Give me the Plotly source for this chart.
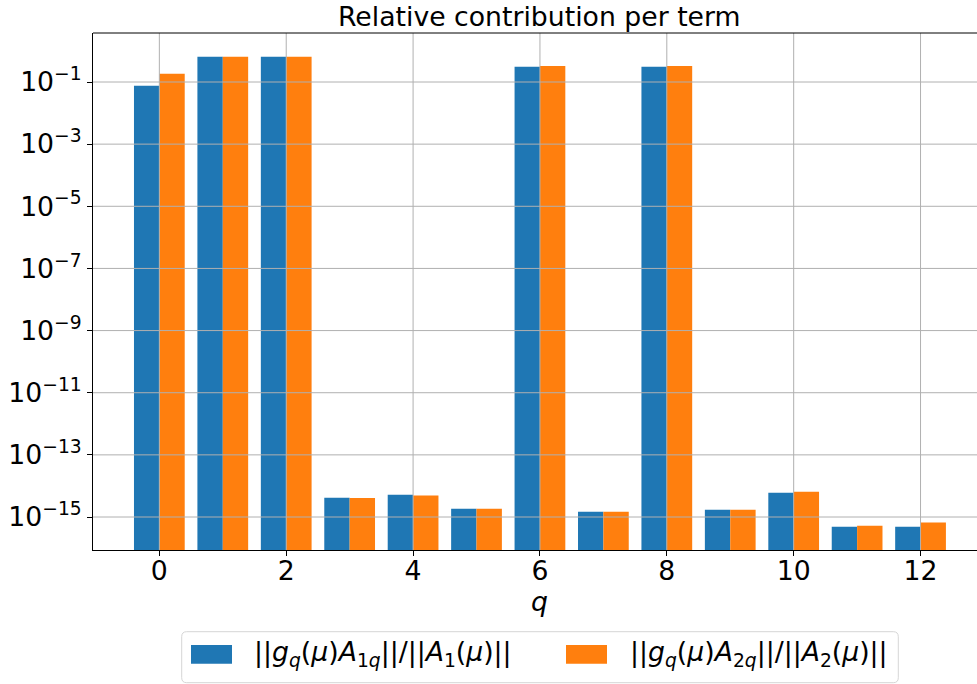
import plotly.graph_objects as go

# Term index q
q_terms = list(range(13))

# Relative contribution of each term, first and second operator
rel_A1 = [7.6e-2, 6.5e-1, 6.5e-1, 4.2e-15, 5.2e-15, 1.85e-15, 3.1e-1,
          1.48e-15, 3.1e-1, 1.72e-15, 6.05e-15, 4.9e-16, 4.9e-16]
rel_A2 = [1.85e-1, 6.5e-1, 6.5e-1, 4.1e-15, 4.9e-15, 1.85e-15, 3.3e-1,
          1.48e-15, 3.3e-1, 1.72e-15, 6.5e-15, 5.2e-16, 6.6e-16]

# Axis ticks
x_ticks = [0, 2, 4, 6, 8, 10, 12]
y_exponents = [-15, -13, -11, -9, -7, -5, -3, -1]

series_names = [
    "||<i>g</i><sub><i>q</i></sub>(<i>μ</i>)<i>A</i><sub>1<i>q</i></sub>||/||<i>A</i><sub>1</sub>(<i>μ</i>)||",
    "||<i>g</i><sub><i>q</i></sub>(<i>μ</i>)<i>A</i><sub>2<i>q</i></sub>||/||<i>A</i><sub>2</sub>(<i>μ</i>)||",
]
colors = ["#1f77b4", "#ff7f0e"]

W, H = 977, 684
L, R, T, B = 93, 0, 33, 134
plot_w = W - L - R
plot_h = H - T - B
X_RANGE = [-1.046, 12.89]
Y_RANGE = [-16.062, 0.577]


def px_x(px):
    return (px - L) / plot_w


def px_y(py):
    return (H - B - py) / plot_h


FONT = "DejaVu Sans"
FS = 26.7
GRID = "#b0b0b0"

fig = go.Figure()
for name, vals, col in zip(series_names, [rel_A1, rel_A2], colors):
    fig.add_trace(go.Bar(x=q_terms, y=vals, name=name, marker_color=col,
                         marker_line_width=0, showlegend=False))

# horizontal grid lines, drawn over the bars
for e in y_exponents:
    fig.add_trace(go.Scatter(x=X_RANGE, y=[10.0 ** e, 10.0 ** e], mode="lines",
                             line=dict(color=GRID, width=1), hoverinfo="skip",
                             showlegend=False, cliponaxis=True))

shapes = []
# vertical grid lines
for xv in x_ticks:
    shapes.append(dict(type="line", xref="x", yref="paper", x0=xv, x1=xv, y0=0, y1=1,
                       line=dict(color=GRID, width=1), layer="above"))
# top spine
shapes.append(dict(type="line", xref="paper", yref="paper", x0=0, x1=1, y0=1, y1=1,
                   line=dict(color="black", width=1), layer="above"))


def rounded_rect(x0, y0, x1, y1, r):
    # pixel coordinates -> paper path with rounded corners
    X = lambda v: px_x(v)
    Y = lambda v: px_y(v)
    pts = [
        f"M {X(x0 + r)},{Y(y0)}",
        f"L {X(x1 - r)},{Y(y0)}",
        f"Q {X(x1)},{Y(y0)} {X(x1)},{Y(y0 + r)}",
        f"L {X(x1)},{Y(y1 - r)}",
        f"Q {X(x1)},{Y(y1)} {X(x1 - r)},{Y(y1)}",
        f"L {X(x0 + r)},{Y(y1)}",
        f"Q {X(x0)},{Y(y1)} {X(x0)},{Y(y1 - r)}",
        f"L {X(x0)},{Y(y0 + r)}",
        f"Q {X(x0)},{Y(y0)} {X(x0 + r)},{Y(y0)}",
        "Z",
    ]
    return " ".join(pts)


# legend frame
shapes.append(dict(type="path", xref="paper", yref="paper",
                   path=rounded_rect(181.7, 631.7, 898.3, 682.7, 5),
                   line=dict(color="#d6d6d6", width=1), fillcolor="white", layer="above"))
patch_x = [(191, 232), (566, 607)]
text_x = [251.7, 628]
annotations = []
for (x0, x1), tx, name, col in zip(patch_x, text_x, series_names, colors):
    shapes.append(dict(type="rect", xref="paper", yref="paper",
                       x0=px_x(x0), x1=px_x(x1), y0=px_y(663.7), y1=px_y(645),
                       line=dict(width=0), fillcolor=col, layer="above"))
    annotations.append(dict(text=name, xref="paper", yref="paper", x=px_x(tx), y=px_y(653),
                            xanchor="left", yanchor="middle", showarrow=False,
                            font=dict(family=FONT, size=FS, color="black")))

# title and x label
annotations.append(dict(text="Relative contribution per term", xref="paper", yref="paper",
                        x=px_x(539.4), y=px_y(17), xanchor="center", yanchor="middle",
                        showarrow=False, font=dict(family=FONT, size=FS, color="black")))
annotations.append(dict(text="<i>q</i>", xref="paper", yref="paper",
                        x=px_x(539.4), y=px_y(601), xanchor="center", yanchor="middle",
                        showarrow=False, font=dict(family=FONT, size=FS, color="black")))

fig.update_layout(
    width=W, height=H,
    margin=dict(l=L, r=R, t=T, b=B, pad=0),
    paper_bgcolor="white", plot_bgcolor="white",
    barmode="group", bargap=0.2, bargroupgap=0,
    font=dict(family=FONT, size=FS, color="black"),
    shapes=shapes, annotations=annotations,
    xaxis=dict(range=X_RANGE, tickvals=x_ticks, ticktext=[str(v) for v in x_ticks],
               showgrid=False, zeroline=False, showline=True, linecolor="black", linewidth=1,
               ticks="outside", ticklen=5, tickwidth=1, tickcolor="black",
               ticklabelstandoff=-8,
               tickfont=dict(family=FONT, size=FS, color="black")),
    yaxis=dict(type="log", range=Y_RANGE,
               tickvals=[10.0 ** e for e in y_exponents],
               ticktext=["10<sup>\u2212%d</sup>" % (-e) for e in y_exponents],
               showgrid=False, zeroline=False, showline=True, linecolor="black", linewidth=1,
               ticks="outside", ticklen=5, tickwidth=1, tickcolor="black",
               tickfont=dict(family=FONT, size=FS, color="black")),
)

fig.write_html("out.html")
